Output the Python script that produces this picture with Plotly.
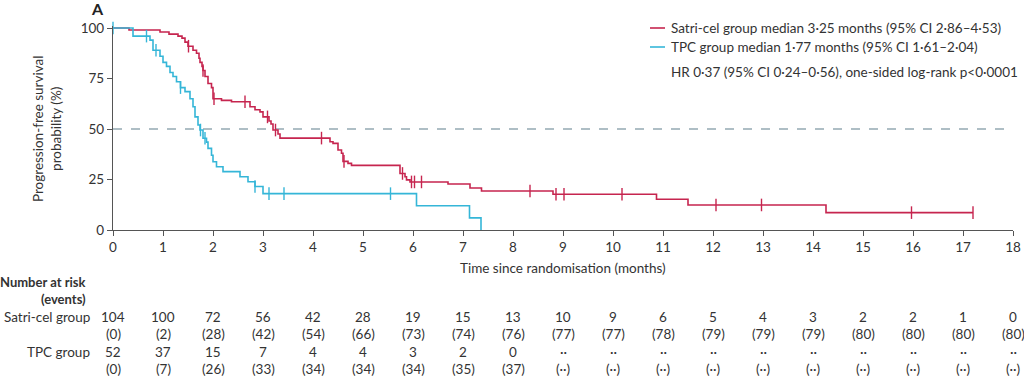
import numpy as np
import plotly.graph_objects as go

# ---------------- data ----------------
satri_times = [0, 0.32, 0.94, 1.12, 1.3, 1.38, 1.44, 1.5, 1.6, 1.67, 1.72, 1.74, 1.78, 1.8, 1.84,
               1.9, 1.97, 2.0, 2.17, 2.37, 2.74, 2.84, 2.94, 3.0, 3.12, 3.16, 3.2, 3.3, 3.34,
               4.34, 4.4, 4.5, 4.57, 4.6, 4.7, 4.77, 5.74, 5.84, 5.87, 5.94, 6.7, 7.14, 7.37,
               8.8, 10.87, 11.5, 14.26]
satri_surv = [100, 99, 98, 97, 96, 95, 93, 91, 89, 87.5, 85, 83, 81, 79, 76,
              72.5, 70.5, 65, 64.2, 63.5, 61, 59.5, 58.5, 56, 54, 52.5, 49.5, 47.5, 45.5,
              43.7, 42.9, 39.6, 38, 34, 33, 32, 28, 26.4, 24.8, 23.8, 22.8, 20.8, 19.3,
              17.7, 15.2, 12.4, 8.6]
satri_censor = [1.51, 1.8, 2.02, 2.64, 3.09, 3.25, 4.17, 4.62, 5.79, 5.97, 6.03, 6.17,
                8.34, 8.86, 9.02, 10.18, 12.06, 12.97, 15.97, 17.2]

tpc_times = [0, 0.4, 0.74, 0.8, 0.94, 1.0, 1.07, 1.14, 1.2, 1.27, 1.35, 1.44, 1.54, 1.6, 1.64,
             1.7, 1.74, 1.8, 1.87, 1.9, 1.97, 2.0, 2.07, 2.2, 2.54, 2.7, 2.84, 3.0, 6.07, 7.13, 7.36]
tpc_surv = [100, 96, 94, 89, 86, 83, 81, 78, 76, 73.4, 70.5, 68.5, 65, 61, 56,
            52, 49.5, 45.4, 43.5, 40.4, 37, 33.8, 31.3, 28.9, 26.4, 23.9, 21.5, 18, 12, 6, 0]
tpc_censor = [0, 0.67, 0.86, 1.35, 1.75, 1.84, 2.84, 3.12, 3.42, 5.55]

months = list(range(0, 19))
satri_risk = [104, 100, 72, 56, 42, 28, 19, 15, 13, 10, 9, 6, 5, 4, 3, 2, 2, 1, 0]
satri_events = [0, 2, 28, 42, 54, 66, 73, 74, 76, 77, 77, 78, 79, 79, 79, 80, 80, 80, 80]
tpc_risk = [52, 37, 15, 7, 4, 4, 3, 2, 0] + [None] * 10
tpc_events = [0, 7, 26, 33, 34, 34, 34, 35, 37] + [None] * 10

legend_satri = "Satri-cel group median 3·25 months (95% CI 2·86–4·53)"
legend_tpc = "TPC group median 1·77 months (95% CI 1·61–2·04)"
hr_text = "HR 0·37 (95% CI 0·24–0·56), one-sided log-rank p<0·0001"

RED = "#c6254f"
BLUE = "#35b6d8"
AX = "#555555"
TXT = "#333333"
FONT = "Lato"


def step_value(times, surv, t):
    i = np.searchsorted(np.array(times), t, side="right") - 1
    return surv[max(i, 0)]


fig = go.Figure()

# reference line at 50%
fig.add_trace(go.Scatter(x=[0, 18], y=[50, 50], mode="lines",
                         line=dict(color="#5f7f8c", width=1.2, dash="dash"),
                         hoverinfo="skip", showlegend=False))

for times, surv, cens, col in [(satri_times, satri_surv, satri_censor, RED),
                               (tpc_times, tpc_surv, tpc_censor, BLUE)]:
    end_t = max(max(times), max(cens))
    xs = list(times) + [end_t]
    ys = list(surv) + [surv[-1]]
    fig.add_trace(go.Scatter(x=xs, y=ys, mode="lines", line_shape="hv",
                             line=dict(color=col, width=1.6), showlegend=False))
    cy = [step_value(times, surv, c) for c in cens]
    fig.add_trace(go.Scatter(x=cens, y=cy, mode="markers", cliponaxis=False,
                             marker=dict(symbol="line-ns", size=9,
                                         line=dict(color=col, width=1.4)),
                             showlegend=False))

# ---------- layout geometry ----------
W, H = 1024, 390
L, R, T, B = 113, 11, 26, 160
PH = H - T - B
PW = W - L - R


def py(pix):
    return (H - B - pix) / PH


def px(pix):
    return (pix - L) / PW


annotations = []
shapes = []
F = 13.5

# panel letter
annotations.append(dict(x=px(97), y=py(8), xref="paper", yref="paper", text="<b>A</b>",
                        showarrow=False, font=dict(size=16, color="#222", family=FONT),
                        xanchor="center", yanchor="middle"))

# y axis title (placed manually)
annotations.append(dict(x=px(47), y=py(129), xref="paper", yref="paper",
                        text="Progression-free survival<br>probability (%)", textangle=-90,
                        showarrow=False, xanchor="center", yanchor="middle",
                        font=dict(size=F, color=TXT, family=FONT)))
# x axis title
annotations.append(dict(x=px(563), y=py(268), xref="paper", yref="paper",
                        text="Time since randomisation (months)",
                        showarrow=False, xanchor="center", yanchor="middle",
                        font=dict(size=F, color=TXT, family=FONT)))

# legend
for yy, col, txt in [(28, RED, legend_satri), (47, BLUE, legend_tpc)]:
    shapes.append(dict(type="line", xref="paper", yref="paper", x0=px(650), x1=px(665),
                       y0=py(yy), y1=py(yy), line=dict(color=col, width=1.6)))
    annotations.append(dict(x=px(669), y=py(yy), xref="paper", yref="paper", text=txt,
                            showarrow=False, xanchor="left", yanchor="middle",
                            font=dict(size=F, color=TXT, family=FONT)))
annotations.append(dict(x=px(669), y=py(72), xref="paper", yref="paper", text=hr_text,
                        showarrow=False, xanchor="left", yanchor="middle",
                        font=dict(size=F, color=TXT, family=FONT)))

# risk table
lab_x = px(92)
rows_y = {"hdr1": 282, "hdr2": 299, "s": 317, "se": 334, "t": 352, "te": 369}
annotations.append(dict(x=px(88), y=py(rows_y["hdr1"]), xref="paper", yref="paper",
                        text="<b>Number at risk</b>", showarrow=False, xanchor="right",
                        yanchor="middle", font=dict(size=13, color=TXT, family=FONT)))
annotations.append(dict(x=px(88), y=py(rows_y["hdr2"]), xref="paper", yref="paper",
                        text="<b>(events)</b>", showarrow=False, xanchor="right",
                        yanchor="middle", font=dict(size=13, color=TXT, family=FONT)))
annotations.append(dict(x=lab_x, y=py(rows_y["s"]), xref="paper", yref="paper",
                        text="Satri-cel group", showarrow=False, xanchor="right",
                        yanchor="middle", font=dict(size=F, color=TXT, family=FONT)))
annotations.append(dict(x=lab_x, y=py(rows_y["t"]), xref="paper", yref="paper",
                        text="TPC group", showarrow=False, xanchor="right",
                        yanchor="middle", font=dict(size=F, color=TXT, family=FONT)))

for m, sr, se, tr, te in zip(months, satri_risk, satri_events, tpc_risk, tpc_events):
    cells = [(rows_y["s"], str(sr)), (rows_y["se"], f"({se})"),
             (rows_y["t"], str(tr) if tr is not None else "··"),
             (rows_y["te"], f"({te})" if te is not None else "(··)")]
    for yy, txt in cells:
        annotations.append(dict(x=m, y=py(yy), xref="x", yref="paper", text=txt,
                                showarrow=False, xanchor="center", yanchor="middle",
                                font=dict(size=F, color=TXT, family=FONT)))

fig.update_layout(
    width=W, height=H,
    margin=dict(l=L, r=R, t=T, b=B, autoexpand=False),
    paper_bgcolor="white", plot_bgcolor="white",
    font=dict(family=FONT, size=F, color=TXT),
    xaxis=dict(range=[0, 18], tickmode="array", tickvals=months, automargin=False,
               ticks="outside", ticklen=5, tickcolor=AX, tickwidth=1.3,
               showline=True, linecolor=AX, linewidth=1.3, showgrid=False, zeroline=False,
               tickfont=dict(size=F, color=TXT)),
    yaxis=dict(range=[0, 101], tickmode="array", tickvals=[0, 25, 50, 75, 100],
               automargin=False,
               ticks="outside", ticklen=5, tickcolor=AX, tickwidth=1.3,
               showline=True, linecolor=AX, linewidth=1.3, showgrid=False, zeroline=False,
               tickfont=dict(size=F, color=TXT)),
    annotations=annotations,
    shapes=shapes,
    showlegend=False,
)

fig.write_html("out.html", config={"displayModeBar": False},
               post_script="document.body.style.margin='0px';document.body.style.overflow='hidden';")
